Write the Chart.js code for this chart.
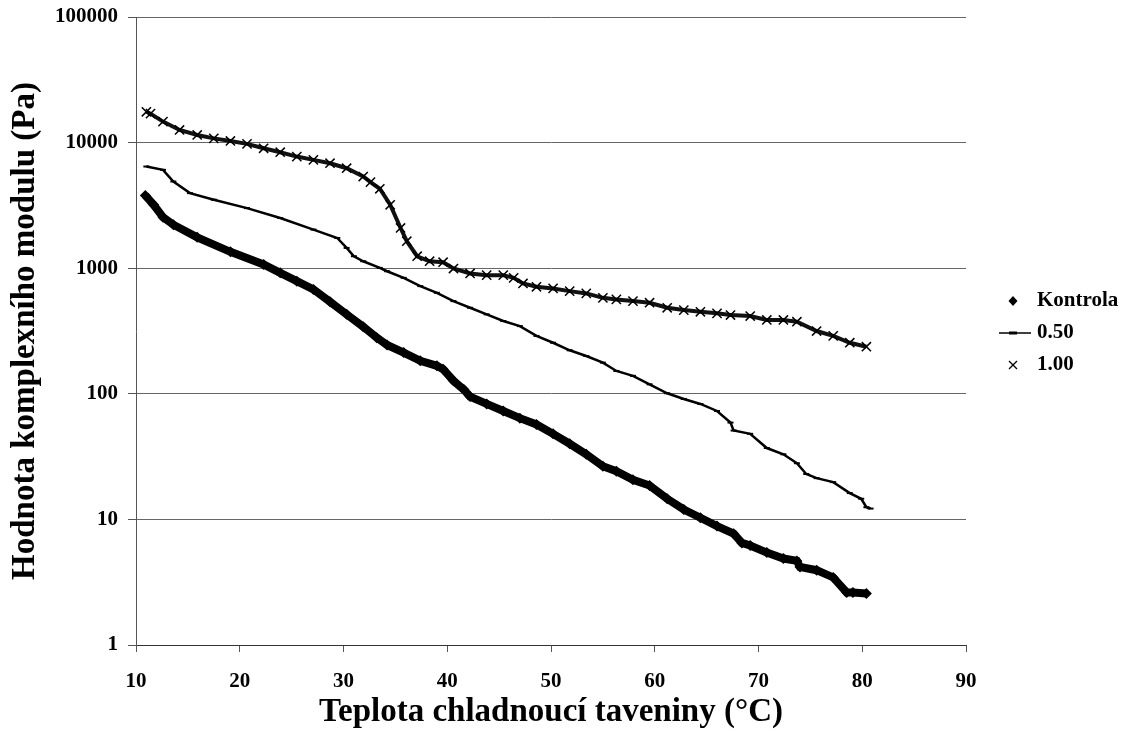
<!DOCTYPE html>
<html>
<head>
<meta charset="utf-8">
<script src="https://cdn.jsdelivr.net/npm/chart.js@4.4.1/dist/chart.umd.min.js"></script>
<style>
  html, body { margin: 0; padding: 0; background: #ffffff; }
  #wrap { width: 1138px; height: 742px; position: relative; }
</style>
</head>
<body>
<div id="wrap"><canvas id="c" width="1138" height="742"></canvas></div>
<script>
// ---- Data ----
const seriesLabels = ["Kontrola", "0.50", "1.00"];

const kontrolaT = [10.9, 11.7, 12.6, 13.6, 15.9, 19.1, 22.3, 23.9, 25.5, 27.1, 28.7, 30.3, 31.9, 33.2, 34.2, 35.8, 37.4, 39.0, 39.6, 40.6, 41.6, 42.2, 43.8, 45.4, 47.0, 48.6, 50.2, 51.8, 53.4, 55.0, 56.3, 57.9, 59.5, 61.2, 62.8, 64.4, 66.0, 67.6, 68.4, 69.2, 70.8, 72.4, 73.7, 74.0, 75.6, 77.2, 78.5, 79.1, 80.4];
const kontrolaV = [3800, 3200, 2550, 2220, 1760, 1350, 1070, 918, 788, 678, 540, 429, 342, 280, 245, 213, 183, 167, 157, 127, 108, 95, 83, 73, 64, 57, 48, 40, 33, 26.5, 24.2, 20.7, 18.6, 14.6, 12.0, 10.3, 8.85, 7.7, 6.5, 6.2, 5.44, 4.88, 4.67, 4.18, 3.94, 3.45, 2.62, 2.62, 2.57];

const s050T = [11.0, 12.6, 13.6, 15.2, 17.5, 20.7, 23.9, 27.1, 29.4, 30.3, 31.0, 31.9, 33.5, 34.2, 35.8, 37.4, 39.0, 40.6, 42.2, 43.8, 45.4, 47.0, 48.6, 50.2, 51.8, 53.4, 55.0, 56.3, 57.9, 59.5, 61.2, 62.8, 64.4, 66.0, 67.3, 67.6, 69.2, 70.8, 72.4, 73.7, 74.6, 75.6, 77.2, 78.8, 79.9, 80.4, 80.8];
const s050V = [6450, 6070, 4900, 3960, 3510, 3010, 2510, 2030, 1740, 1450, 1245, 1136, 1005, 946, 838, 720, 637, 547, 484, 429, 380, 346, 289, 255, 222, 200, 177, 152, 139, 119, 101, 91, 83, 73, 59, 51, 48, 37, 33, 28, 23, 21.3, 19.8, 16.2, 14.6, 12.5, 12.2];

const s100T = [11.0, 11.4, 12.6, 14.2, 15.9, 17.5, 19.1, 20.7, 22.3, 23.9, 25.5, 27.1, 28.7, 30.3, 31.9, 32.6, 33.5, 34.5, 35.5, 36.1, 37.1, 38.3, 39.6, 40.6, 42.2, 43.8, 45.4, 46.4, 47.3, 48.6, 50.2, 51.8, 53.4, 55.0, 56.3, 57.9, 59.5, 61.2, 62.8, 64.4, 66.0, 67.3, 69.2, 70.8, 72.4, 73.7, 75.6, 77.2, 78.8, 80.4];
const s100V = [17600, 17000, 14700, 12600, 11500, 10800, 10300, 9770, 9010, 8380, 7740, 7290, 6850, 6250, 5370, 4840, 4290, 3200, 2090, 1640, 1245, 1136, 1116, 994, 908, 880, 880, 838, 756, 711, 690, 657, 630, 581, 564, 547, 531, 484, 464, 450, 437, 424, 416, 387, 387, 375, 316, 289, 255, 237];

const xTicks = [10, 20, 30, 40, 50, 60, 70, 80, 90];
const yTicks = [1, 10, 100, 1000, 10000, 100000];
const xTitle = "Teplota chladnoucí taveniny (°C)";
const yTitle = "Hodnota komplexního modulu (Pa)";

// ---- Build chart ----
const pts = (xs, ys) => xs.map((x, i) => ({ x: x, y: ys[i] }));
const FONT = "'Liberation Serif', 'Times New Roman', serif";

const legendPlugin = {
  id: 'customLegend',
  afterDraw(chart) {
    const ctx = chart.ctx;
    ctx.save();
    ctx.fillStyle = '#000';
    ctx.strokeStyle = '#000';
    ctx.font = "bold 21px " + FONT;
    ctx.textBaseline = 'middle';
    ctx.textAlign = 'left';
    const textX = 1037;
    const mx = 1013;
    const rows = [301, 333, 365];
    // Kontrola: diamond
    ctx.beginPath();
    ctx.moveTo(mx, rows[0] - 5); ctx.lineTo(mx + 4.5, rows[0]); ctx.lineTo(mx, rows[0] + 5); ctx.lineTo(mx - 4.5, rows[0]);
    ctx.closePath(); ctx.fill();
    ctx.fillText(seriesLabels[0], textX, rows[0]);
    // 0.50: line with dash marker
    ctx.lineWidth = 1.5;
    ctx.beginPath(); ctx.moveTo(999, rows[1]); ctx.lineTo(1031, rows[1]); ctx.stroke();
    ctx.fillRect(mx - 4, rows[1] - 1.5, 8, 3);
    ctx.fillText(seriesLabels[1], textX, rows[1]);
    // 1.00: cross
    ctx.lineWidth = 1.3;
    ctx.beginPath();
    ctx.moveTo(mx - 4, rows[2] - 4); ctx.lineTo(mx + 4, rows[2] + 4);
    ctx.moveTo(mx + 4, rows[2] - 4); ctx.lineTo(mx - 4, rows[2] + 4);
    ctx.stroke();
    ctx.fillText(seriesLabels[2], textX, rows[2]);
    ctx.restore();
  }
};

new Chart(document.getElementById('c'), {
  type: 'scatter',
  data: {
    datasets: [
      {
        label: seriesLabels[0],
        data: pts(kontrolaT, kontrolaV),
        showLine: true,
        borderColor: '#000',
        borderWidth: 8,
        backgroundColor: '#000',
        pointStyle: 'rectRot',
        pointRadius: 5.5,
        pointBorderWidth: 0,
        tension: 0
      },
      {
        label: seriesLabels[1],
        data: pts(s050T, s050V),
        showLine: true,
        borderColor: '#000',
        borderWidth: 2.5,
        backgroundColor: '#000',
        pointStyle: 'line',
        pointRadius: 3,
        pointBorderWidth: 2,
        tension: 0
      },
      {
        label: seriesLabels[2],
        data: pts(s100T, s100V),
        showLine: true,
        borderColor: '#111',
        borderWidth: 4,
        backgroundColor: '#000',
        pointStyle: 'crossRot',
        pointRadius: 6.5,
        pointBorderWidth: 1.5,
        pointBorderColor: '#000',
        tension: 0
      }
    ]
  },
  options: {
    responsive: false,
    animation: false,
    devicePixelRatio: 1,
    layout: { padding: { top: 17, right: 172, left: 0, bottom: 0 } },
    plugins: {
      legend: { display: false },
      tooltip: { enabled: false }
    },
    scales: {
      x: {
        type: 'linear',
        min: 10, max: 90,
        afterFit(s) { s.height = 97; s.paddingLeft = 0; s.paddingRight = 0; },
        afterBuildTicks(s) { s.ticks = xTicks.map(v => ({ value: v })); },
        ticks: {
          color: '#000',
          font: { family: FONT, size: 21, weight: 'bold' },
          padding: 17,
          maxRotation: 0,
          callback: v => String(v)
        },
        grid: { drawOnChartArea: false, drawTicks: true, tickLength: 7, tickColor: '#555', lineWidth: 1 },
        border: { color: '#333', width: 1 },
        title: {
          display: true,
          text: xTitle,
          color: '#000',
          font: { family: FONT, size: 33, weight: 'bold' },
          padding: { top: 0, bottom: 10 }
        }
      },
      y: {
        type: 'logarithmic',
        min: 1, max: 100000,
        afterFit(s) { s.width = 136; s.paddingTop = 0; s.paddingBottom = 0; },
        afterBuildTicks(s) { s.ticks = yTicks.map(v => ({ value: v })); },
        ticks: {
          color: '#000',
          font: { family: FONT, size: 21, weight: 'bold' },
          padding: 10,
          callback: v => String(v)
        },
        grid: { drawOnChartArea: true, drawTicks: true, tickLength: 8, color: '#666', tickColor: '#555', lineWidth: 1 },
        border: { color: '#555', width: 1 },
        title: {
          display: true,
          text: yTitle,
          color: '#000',
          font: { family: FONT, size: 33, weight: 'bold' },
          padding: { top: 6, bottom: 0 }
        }
      }
    }
  },
  plugins: [legendPlugin]
});
</script>
</body>
</html>
